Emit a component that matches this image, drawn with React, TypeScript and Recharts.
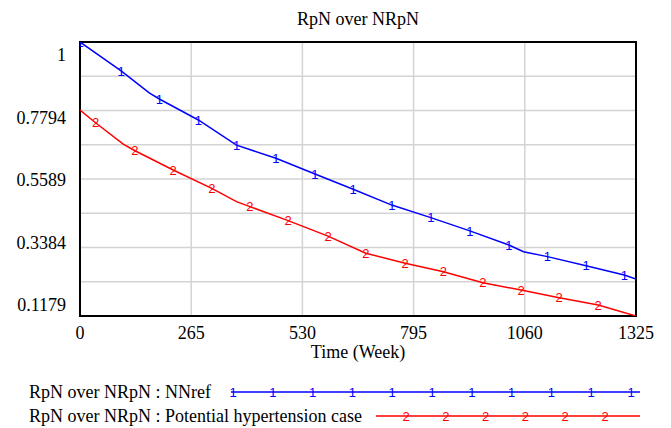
import React from 'react';
import { ComposedChart, Line, XAxis, YAxis, CartesianGrid, ReferenceArea, Legend } from 'recharts';

const SERIF = '"Liberation Serif", "Times New Roman", serif';
const SANS = '"Liberation Sans", Arial, sans-serif';

const chartTitle = 'RpN over NRpN';
const xAxisTitle = 'Time (Week)';
const xTicks = [0, 265, 530, 795, 1060, 1325];
const yLabelTicks = [1, 0.7794, 0.5589, 0.3384, 0.1179];
const yMin = 0.1179;
const yMax = 1;

const seriesNames = ['RpN over NRpN : NNref', 'RpN over NRpN : Potential hypertension case'];
const seriesColors = ['#0000ff', '#ff0000'];
const seriesGlyphs = ['1', '2'];

const blueWeeks = [0, 98, 165, 189, 282, 373, 467, 560, 651, 743, 836, 929, 1022, 1057, 1114, 1206, 1297, 1325];
const blueValues = [1.0, 0.907, 0.836, 0.8165, 0.749, 0.668, 0.6256, 0.575, 0.526, 0.475, 0.4345, 0.392, 0.3465, 0.325, 0.309, 0.28, 0.25, 0.237];
const blueMarkerWeeks = [0, 98, 189, 282, 373, 467, 560, 651, 743, 836, 929, 1022, 1114, 1206, 1297];

const redWeeks = [0, 37, 103, 131, 222, 314, 373, 405, 496, 591, 681, 775, 866, 960, 1051, 1142, 1235, 1325];
const redValues = [0.781, 0.74, 0.671, 0.65, 0.588, 0.529, 0.486, 0.47, 0.425, 0.375, 0.32, 0.2876, 0.2606, 0.225, 0.2016, 0.177, 0.153, 0.1179];
const redMarkerWeeks = [37, 131, 222, 314, 405, 496, 591, 681, 775, 866, 960, 1051, 1142, 1235];

const blueData = blueWeeks.map((t, i) => ({ t, v: blueValues[i], mark: blueMarkerWeeks.includes(t) }));
const redData = redWeeks.map((t, i) => ({ t, v: redValues[i], mark: redMarkerWeeks.includes(t) }));

// 8 equal grid divisions on the data axis
const gridTicks = Array.from({ length: 9 }, (_, k) => yMin + ((yMax - yMin) * k) / 8);

const makeDot = (glyph: string, color: string) => (props: any) => {
  const { cx, cy, payload, index } = props;
  if (!payload || !payload.mark) return <g key={`d-${glyph}-${index}`} />;
  return (
    <text
      key={`d-${glyph}-${index}`}
      x={cx}
      y={cy}
      dy="0.36em"
      textAnchor="middle"
      fill={color}
      fontSize={13}
      fontFamily={SANS}
    >
      {glyph}
    </text>
  );
};

const LegendContent = () => {
  const rows = [
    { y: 392, lineStart: 231, firstMark: 233, count: 11 },
    { y: 416, lineStart: 376, firstMark: 406, count: 6 },
  ];
  return (
    <svg width={671} height={428} style={{ position: 'absolute', left: 0, top: 0, pointerEvents: 'none' }}>
      {rows.map((r, i) => (
        <g key={i}>
          <text x={29} y={r.y + 6} fontSize={18} fontFamily={SERIF} fill="#000">
            {seriesNames[i]}
          </text>
          <line x1={r.lineStart} x2={640} y1={r.y} y2={r.y} stroke={seriesColors[i]} strokeWidth={1.5} />
          {Array.from({ length: r.count }, (_, k) => (
            <text
              key={k}
              x={r.firstMark + k * 39.8}
              y={r.y}
              dy="0.36em"
              textAnchor="middle"
              fontSize={13}
              fontFamily={SANS}
              fill={seriesColors[i]}
            >
              {seriesGlyphs[i]}
            </text>
          ))}
        </g>
      ))}
    </svg>
  );
};

export default function App() {
  return (
    <div style={{ position: 'absolute', left: 0, top: 0, width: 671, height: 428, background: '#fff' }}>
      <ComposedChart width={671} height={428} margin={{ top: 42, right: 35, bottom: 70, left: 20 }}>
        <CartesianGrid yAxisId="data" stroke="#d3d3d3" strokeWidth={1.5} />
        <XAxis
          type="number"
          dataKey="t"
          domain={[0, 1325]}
          ticks={xTicks}
          interval={0}
          allowDataOverflow
          height={42}
          tickSize={0}
          tickMargin={10}
          axisLine={false}
          tickLine={false}
          tick={{ fill: '#000', fontSize: 18, fontFamily: SERIF }}
          label={{
            content: (p: any) => (
              <text
                x={p.viewBox.x + p.viewBox.width / 2}
                y={p.viewBox.y + 42}
                textAnchor="middle"
                fontSize={18}
                fontFamily={SERIF}
                fill="#000"
              >
                {xAxisTitle}
              </text>
            ),
          }}
        />
        <YAxis yAxisId="data" type="number" domain={[yMin, yMax]} ticks={gridTicks} hide width={0} allowDataOverflow />
        <YAxis
          yAxisId="labels"
          type="number"
          domain={[0.0791, 1.0459]}
          ticks={yLabelTicks}
          interval={0}
          allowDataOverflow
          width={60}
          tickSize={0}
          tickMargin={14}
          axisLine={false}
          tickLine={false}
          tick={{ fill: '#000', fontSize: 18, fontFamily: SERIF }}
          tickFormatter={(v: number) => String(v)}
        />
        <ReferenceArea
          yAxisId="data"
          x1={0}
          x2={1325}
          y1={yMin}
          y2={yMax}
          fill="none"
          fillOpacity={0}
          stroke="#000"
          strokeWidth={2}
          ifOverflow="visible"
        />
        <Line
          yAxisId="data"
          data={blueData}
          dataKey="v"
          type="linear"
          stroke={seriesColors[0]}
          strokeWidth={1.5}
          dot={makeDot(seriesGlyphs[0], seriesColors[0])}
          activeDot={false}
          isAnimationActive={false}
          name={seriesNames[0]}
        />
        <Line
          yAxisId="data"
          data={redData}
          dataKey="v"
          type="linear"
          stroke={seriesColors[1]}
          strokeWidth={1.5}
          dot={makeDot(seriesGlyphs[1], seriesColors[1])}
          activeDot={false}
          isAnimationActive={false}
          name={seriesNames[1]}
        />
        <text x={358} y={25} textAnchor="middle" fontSize={18} fontFamily={SERIF} fill="#000">
          {chartTitle}
        </text>
        <Legend
          content={() => <LegendContent />}
          wrapperStyle={{ position: 'absolute', left: 0, top: 0, width: 0, height: 0, overflow: 'visible' }}
        />
      </ComposedChart>
    </div>
  );
}
